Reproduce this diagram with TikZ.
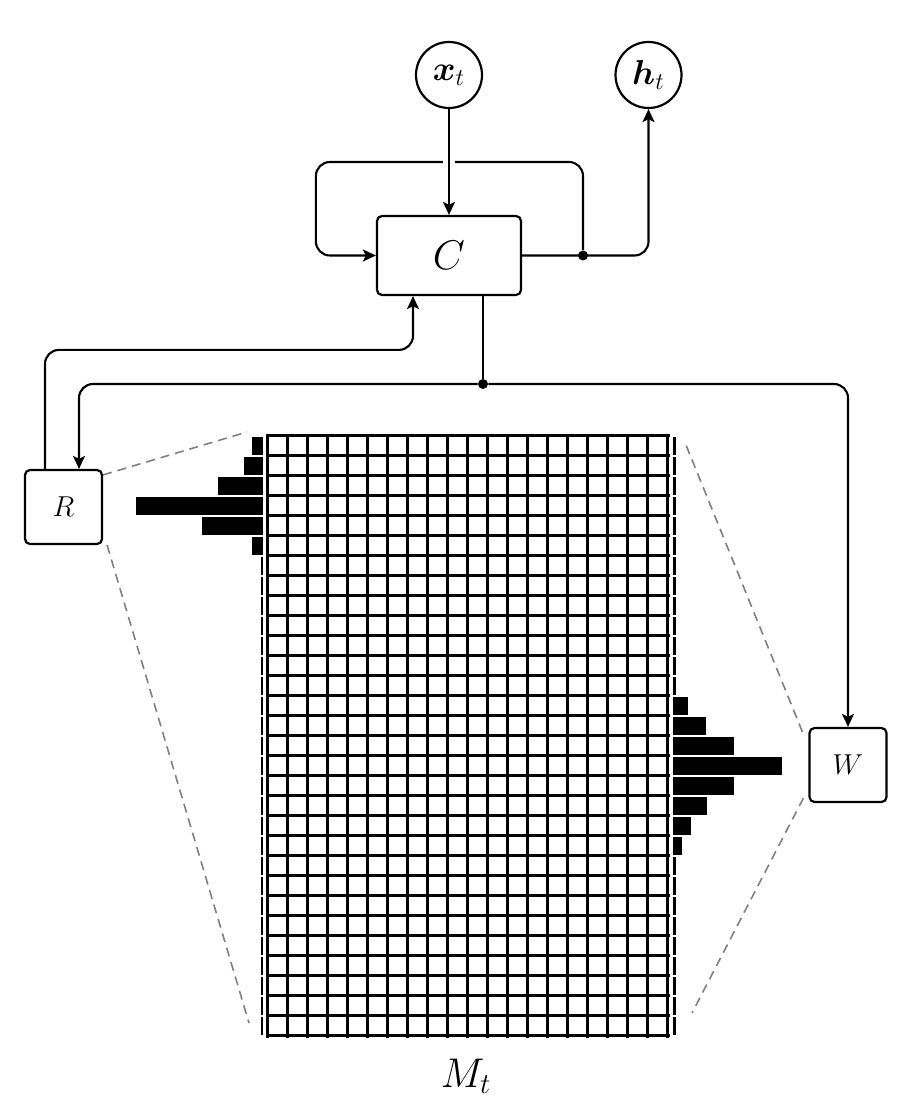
\documentclass[tikz,border=0pt]{standalone}
\usepackage{amsmath, amssymb}
\usepackage{tikz}
\usetikzlibrary{arrows.meta, positioning, calc}
\tikzset{
  signal/.style={
    circle, draw=black, line width=1.1pt,
    minimum size=33pt, inner sep=0pt,
    font=\LARGE
  },
  controller/.style={
    rectangle, draw=black, rounded corners=2.5pt, line width=1.1pt,
    minimum width=72pt, minimum height=39.5pt,
    font=\huge
  },
  head/.style={
    rectangle, draw=black, rounded corners=2.5pt, line width=1.1pt,
    minimum width=38.5pt, minimum height=37pt,
    font=\Large
  },
  memory/.style={rectangle, minimum width=200pt, minimum height=300pt, inner sep=0pt},
  % connectors
  wire/.style={line width=1.05pt, rounded corners=7pt},
  flow/.style={wire, -{Stealth[length=6.5pt, width=6pt, inset=1.5pt]}},
  junction/.style={circle, fill=black, inner sep=0pt, minimum size=5pt},
  zoomline/.style={gray, dash pattern=on 4.5pt off 3pt, line width=0.8pt},
  cell/.style={line width=1.3pt, line cap=rect},
  weight/.style={fill=black}
}

\begin{document}
\begin{tikzpicture}[x=0.5pt, y=-0.5pt]
\useasboundingbox (0,0) rectangle (915,1112);

% Controller, input and output
\node[controller] (ctrl) at (449,255.5) {$C$};
\node[signal] (xt) at (449,75) {$\boldsymbol{x}_t$};
\node[signal] (ht) at (648.5,75) {$\boldsymbol{h}_t$};

% Read and write heads
\node[head] (read) at (63.5,507) {$R$};
\node[head] (write) at (848,765) {$W$};

% Memory matrix
\node[memory] (mem) at (468,736) {};
\node[font=\huge] (mlabel) at (466,1076) {$M_t$};

\foreach \c in {0,...,20}
  \draw[cell] ($(mem.north west)+({20*\c},0)$) -- ($(mem.south west)+({20*\c},0)$);
\foreach \r in {0,...,30}
  \draw[cell] ($(mem.north west)+(0,{20*\r})$) -- ($(mem.north east)+(0,{20*\r})$);

% Read weights (left) and write weights (right)
\foreach \r in {0,...,29} {
  \fill[weight] (260.5,{437+20*\r}) rectangle (263,{455+20*\r});
  \fill[weight] (673,{437+20*\r}) rectangle (675.5,{455+20*\r});
}
\foreach \r/\w in {0/11,1/19,2/45,3/127,4/61,5/11}
  \fill[weight] ({263-\w},{437+20*\r}) rectangle (263,{455+20*\r});
\foreach \r/\w in {13/15,14/33,15/61,16/109,17/61,18/34,19/18,20/9}
  \fill[weight] (673,{437+20*\r}) rectangle ({673+\w},{455+20*\r});

% Zoom lines from the heads to the memory
\coordinate (readtop) at (247,432);
\coordinate (readbot) at (249,1023);
\coordinate (writetop) at (686,445);
\coordinate (writebot) at (692,1013);
\draw[zoomline] ([yshift=-3pt]read.north east) -- (readtop);
\draw[zoomline] ([xshift=2pt]read.south east) -- (readbot);
\draw[zoomline] ([xshift=-3pt,yshift=-2.5pt]write.north west) -- (writetop);
\draw[zoomline] ([xshift=-2.5pt,yshift=2.5pt]write.south west) -- (writebot);

% Recurrent loop and output
\node[junction] (jc) at (583,255.5) {};
\draw[flow] (jc) -- ++(0,-93.5) -| ([xshift=-30pt]ctrl.west) -- (ctrl.west);
\draw[flow] (ctrl.east) -| (ht.south);
\draw[flow, preaction={draw=white, line width=6pt, -, shorten <=20pt, shorten >=20pt}] (xt) -- (ctrl);

% Controller to heads, read head back to controller
\node[junction] (jm) at (483,384) {};
\draw[wire] (ctrl.south -| jm) -- (jm);
\draw[flow] (jm) -| ([xshift=7.75pt]read.north);
\draw[flow] (jm) -| (write.north);
\draw[flow] ([xshift=-9.25pt]read.north) -- ++(0,-119) -| ([xshift=-18pt]ctrl.south);

\end{tikzpicture}
\end{document}
